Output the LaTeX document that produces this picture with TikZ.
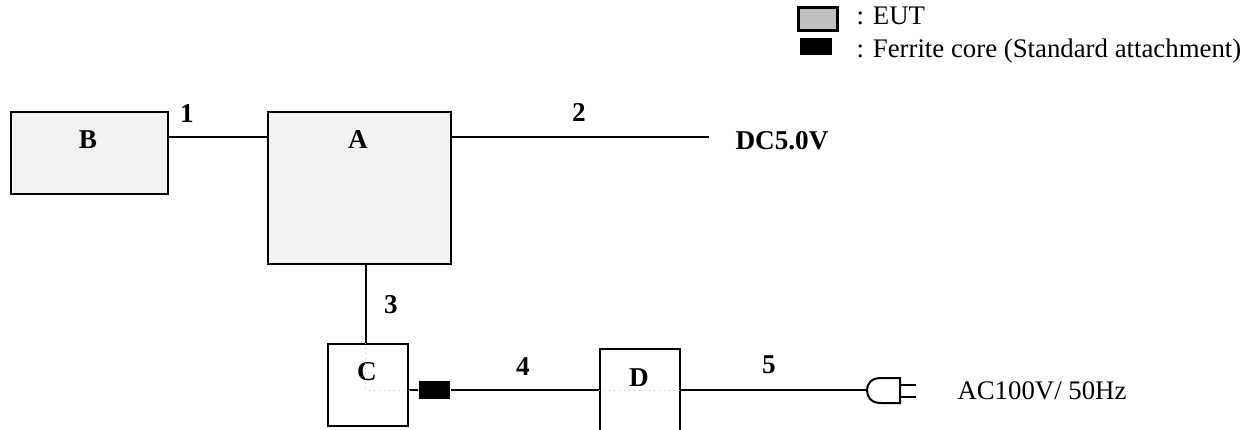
\documentclass[tikz,border=0pt]{standalone}
\usepackage{fontspec}
\setmainfont{Liberation Serif}
\definecolor{eutfill}{HTML}{F2F2F2}
\definecolor{keyfill}{HTML}{C0C0C0}
\tikzset{
  unitbox/.style={draw,line width=1pt,anchor=north west,inner sep=0pt},
  core/.style={draw=none,fill=black,inner sep=0pt,minimum width=15.5pt,minimum height=9pt},
  tag/.style={inner sep=0pt,anchor=base,font=\fontsize{13.6pt}{15pt}\selectfont\bfseries},
  plain/.style={inner sep=0pt,anchor=base west,font=\fontsize{13.4pt}{15pt}\selectfont},
  hidden/.style={draw=black!25,line width=.5pt,dotted}
}
\begin{document}
\begin{tikzpicture}[x=.5pt,y=-.5pt,line width=1pt]
        \useasboundingbox (0,0) rectangle (1253,429);
        % legend
        \node[unitbox,line width=1.5pt,fill=keyfill,minimum width=19.5pt,minimum height=11.5pt] (keyeut) at (797,6) {};
        \node[core,minimum width=16pt,minimum height=8.5pt] (keycore) at (816,46.5) {};
        \node[plain] (eutlabel) at (855.5,24) {: EUT};
        \node[plain] (corelabel) at (855.5,57) {: Ferrite core (Standard attachment)};
        % units
        \node[unitbox,fill=eutfill,minimum width=78.5pt,minimum height=41pt] (unitb) at (10,111) {};
        \node[unitbox,fill=eutfill,minimum width=91.25pt,minimum height=76pt] (unita) at (267,111) {};
        \node[unitbox,minimum width=40pt,minimum height=41pt] (unitc) at (327,343) {};
        \node[unitbox,minimum width=40.25pt,minimum height=61pt] (unitd) at (598.5,348) {};
        \node[tag] (nameb) at (88,148) {B};
        \node[tag] (namea) at (358,148) {A};
        \node[tag] (namec) at (367,380) {C};
        \node[tag] (named) at (639,386) {D};
        % free ends
        \coordinate (busy) at (709,137);
        \coordinate (tapa) at (365.5,263);
        \coordinate (mainy) at (867,390);
        \node[core] (ferrite) at (434.5,390) {};
        % cables
        \draw (unitb.east |- busy) -- (unita.west |- busy);
        \draw (unita.east |- busy) -- (busy);
        \draw (tapa) -- (tapa |- unitc.north);
        \draw (unitc.east |- mainy) -- (ferrite);
        \draw (ferrite) -- (unitd.west |- mainy);
        \draw (unitd.east |- mainy) -- (mainy);
        % hidden parts of the cables
        \draw[hidden] (tapa |- unitc.north) -- (tapa |- mainy) -- (unitc.east |- mainy);
        \draw[hidden] (unitd.west |- mainy) -- (unitd.east |- mainy);
        % plug
        \draw (900,378) -- (881,378) .. controls (871,378) and (867,384) .. (mainy) .. controls (867,397) and (871,403) .. (881,403) -- (900,403) -- cycle;
        \draw (900,384.5) -- (916,384.5);
        \draw (900,397) -- (916,397);
        % labels
        \node[tag] (cable1) at (187,122) {1};
        \node[tag] (cable2) at (579,121) {2};
        \node[tag] (cable3) at (391,313) {3};
        \node[tag] (cable4) at (523,375) {4};
        \node[tag] (cable5) at (769,373) {5};
        \node[tag,anchor=base west] (dclabel) at (734.5,149) {DC5.0V};
        \node[plain] (aclabel) at (956.5,399) {AC100V/ 50Hz};
\end{tikzpicture}
\end{document}
